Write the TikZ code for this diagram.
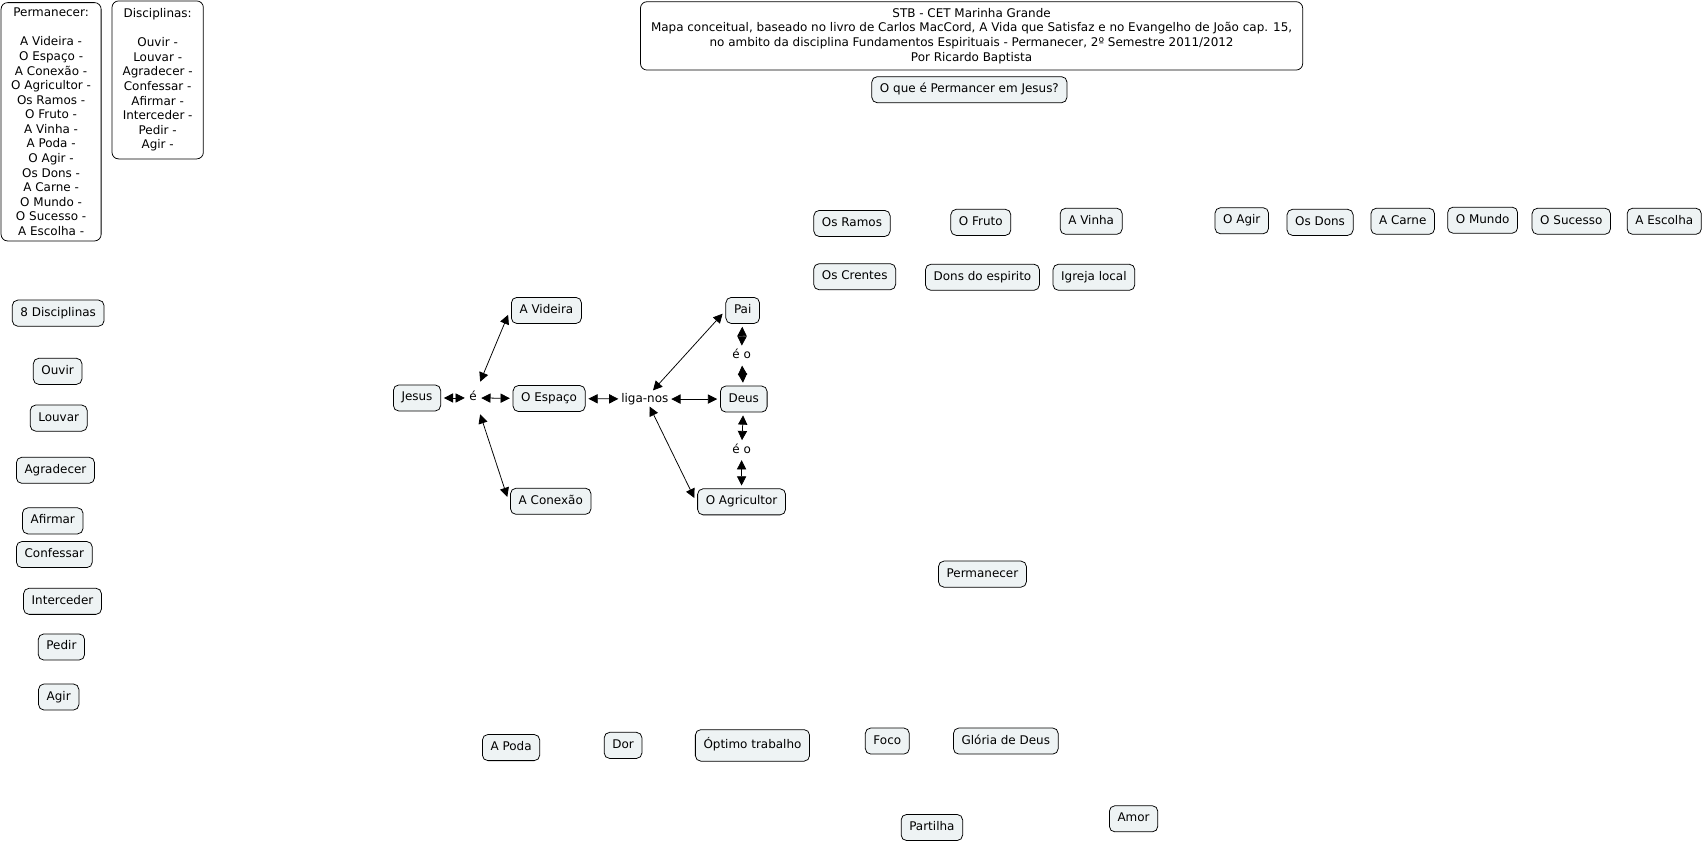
\documentclass[tikz,border=0pt]{standalone}
\usepackage{fontspec}
\setmainfont{DejaVu Sans}
\usetikzlibrary{arrows.meta}
\definecolor{nodefill}{RGB}{238,243,244}
\tikzset{
  basefont/.style={font=\fontsize{11}{13.4}\selectfont},
  concept/.style={basefont, draw, rounded corners=5pt, fill=nodefill, line width=0.7pt,
    inner xsep=7.5pt, inner ysep=2pt, minimum height=24pt, text height=8pt, text depth=2.5pt,
    outer sep=3pt},
  infobox/.style={basefont, draw, rounded corners=6pt, fill=white, line width=0.7pt,
    align=center, inner xsep=6pt, inner ysep=5pt},
  phrase/.style={basefont, inner xsep=2.5pt, inner ysep=3.75pt, text height=8pt, text depth=2.5pt},
  link/.style={{Triangle[length=8.5pt,width=8.5pt]}-{Triangle[length=8.5pt,width=8.5pt]}, line width=0.7pt},
}
\begin{document}
\begin{tikzpicture}[x=1pt,y=-1pt]
\useasboundingbox (0,0) rectangle (1568,776);

% info boxes
\node[infobox, minimum width=92pt] (permbox) at (47,112) {Permanecer:\\[13.4pt]A Videira -\\O Espaço -\\A Conexão -\\O Agricultor -\\Os Ramos -\\O Fruto -\\A Vinha -\\A Poda -\\O Agir -\\Os Dons -\\A Carne -\\O Mundo -\\O Sucesso -\\A Escolha -};
\node[infobox, minimum width=84pt, inner ysep=7pt] (discbox) at (145,73.5) {Disciplinas:\\[13.4pt]Ouvir -\\Louvar -\\Agradecer -\\Confessar -\\Afirmar -\\Interceder -\\Pedir -\\Agir -};
\node[infobox, minimum width=609pt, inner ysep=6pt] (title) at (893.5,33) {STB - CET Marinha Grande\\Mapa conceitual, baseado no livro de Carlos MacCord, A Vida que Satisfaz e no Evangelho de João cap. 15,\\no ambito da disciplina Fundamentos Espirituais - Permanecer, 2º Semestre 2011/2012\\Por Ricardo Baptista};
\node[concept] (pergunta) at (891.5,82.5) {O que é Permancer em Jesus?};

% top rows
\node[concept] (ramos) at (783.5,205.5) {Os Ramos};
\node[concept] (fruto) at (902,204.5) {O Fruto};
\node[concept] (vinha) at (1003.5,203.5) {A Vinha};
\node[concept] (oagir) at (1142,203) {O Agir};
\node[concept] (dons) at (1214,204.5) {Os Dons};
\node[concept] (carne) at (1290,203.5) {A Carne};
\node[concept] (mundo) at (1363.5,202.5) {O Mundo};
\node[concept] (sucesso) at (1445,203.5) {O Sucesso};
\node[concept] (escolha) at (1530.5,203.5) {A Escolha};
\node[concept] (crentes) at (786,254.5) {Os Crentes};
\node[concept] (donsesp) at (903.5,255) {Dons do espirito};
\node[concept] (igreja) at (1006,255) {Igreja local};

% left column
\node[concept] (oito) at (53.5,288) {8 Disciplinas};
\node[concept] (ouvir) at (53,341.5) {Ouvir};
\node[concept] (louvar) at (54,384.5) {Louvar};
\node[concept] (agradecer) at (51,432.5) {Agradecer};
\node[concept] (afirmar) at (48.5,479) {Afirmar};
\node[concept] (confessar) at (50,510) {Confessar};
\node[concept] (interceder) at (57.5,553) {Interceder};
\node[concept] (pedir) at (56.5,595) {Pedir};
\node[concept] (agir) at (54,641) {Agir};

% central map
\node[concept] (jesus) at (383.5,366) {Jesus};
\node[phrase, inner xsep=4pt, inner ysep=9.5pt] (e) at (435,366) {é};
\node[concept] (espaco) at (505,366.5) {O Espaço};
\node[concept] (videira) at (502.5,285.5) {A Videira};
\node[concept] (conexao) at (506.5,461) {A Conexão};
\node[phrase, inner ysep=2.5pt] (liga) at (593,367) {liga-nos};
\node[concept] (deus) at (684,367) {Deus};
\node[concept] (pai) at (683,285.5) {Pai};
\node[phrase] (eo1) at (682,327) {é o};
\node[phrase] (eo2) at (682,414) {é o};
\node[concept] (agricultor) at (682,461.5) {O Agricultor};

\draw[link] (jesus) -- (e);
\draw[link] (e) -- (espaco);
\draw[link] ([xshift=-1pt]e.north east) -- ([yshift=-4pt]videira.west);
\draw[link] ([xshift=-1pt]e.south east) -- ([yshift=4pt]conexao.west);
\draw[link] (espaco) -- (liga);
\draw[link] ([xshift=7.5pt]liga.north) -- ([yshift=-3pt]pai.west);
\draw[link] (liga) -- (deus);
\draw[link] ([xshift=4.5pt,yshift=1pt]liga.south) -- ([yshift=3.5pt]agricultor.west);
\draw[link] (pai) -- (eo1);
\draw[link] (eo1) -- (deus);
\draw[link] (deus) -- (eo2);
\draw[link] (eo2) -- (agricultor);

\node[concept] (permanecer) at (903.5,528) {Permanecer};

% bottom
\node[concept] (poda) at (470,687.5) {A Poda};
\node[concept] (dor) at (573,685.5) {Dor};
\node[concept, minimum height=29pt] (optimo) at (692,685.5) {Óptimo trabalho};
\node[concept] (foco) at (816,681.5) {Foco};
\node[concept] (gloria) at (925,681.5) {Glória de Deus};
\node[concept] (partilha) at (857,761) {Partilha};
\node[concept] (amor) at (1042.5,753) {Amor};
\end{tikzpicture}
\end{document}
